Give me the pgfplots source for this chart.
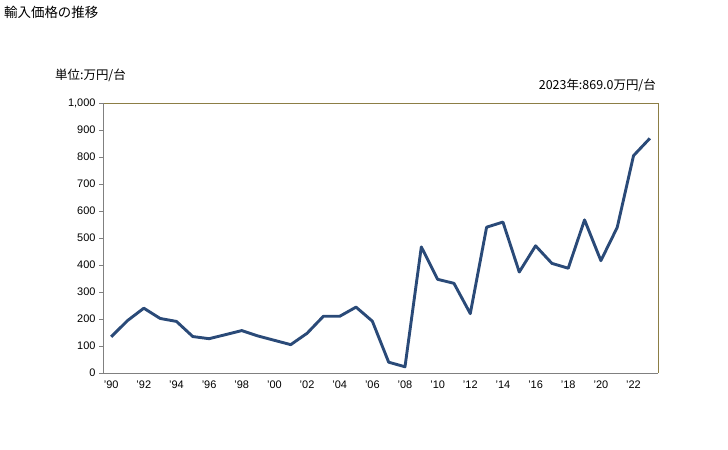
\documentclass[border=0pt]{standalone}
\usepackage{fontspec}
\setmainfont{Liberation Sans}
\newfontfamily\jp{Noto Sans CJK JP}
\usepackage{pgfplots}
\pgfplotsset{compat=1.18}
\definecolor{linecol}{HTML}{2A4A78}
\definecolor{framecol}{HTML}{8C7E45}
\definecolor{axgray}{HTML}{808080}

\begin{document}
\begin{tikzpicture}[x=1bp,y=1bp]
\path (0,0) rectangle (728,450);
\node[anchor=north west, inner sep=0pt, font=\jp\fontsize{13.5}{15}\selectfont] at (4,444) {輸入価格の推移};
\node[anchor=north west, inner sep=0pt, font=\jp\fontsize{12.5}{14}\selectfont] at (55,381) {単位:万円/台};
\node[anchor=north east, inner sep=0pt, font=\jp\fontsize{12.5}{14}\selectfont] at (656,371) {2023年:869.0万円/台};
\begin{axis}[
  at={(103bp,77bp)}, anchor=south west,
  scale only axis, width=555bp, height=270bp,
  xmin=1989.5, xmax=2023.5,
  ymin=0, ymax=1000,
  ytick={0,100,...,1000},
  xtick={1990,1992,...,2022},
  xticklabels={’90,’92,’94,’96,’98,’00,’02,’04,’06,’08,’10,’12,’14,’16,’18,’20,’22},
  tick label style={font=\fontsize{11}{12}\selectfont},
  /pgf/number format/assume math mode=true,
  /pgf/number format/1000 sep={,},
  axis line style={draw=none},
  x tick style={draw=none},
  y tick style={axgray, thin},
  ytick pos=left, tick align=outside, major tick length=4bp,
  xtick pos=bottom,
  clip=false,
]
\draw[framecol, line width=0.9bp] (axis cs:1989.5,1000) -- (axis cs:2023.5,1000) -- (axis cs:2023.5,0);
\draw[axgray, line width=0.9bp] (axis cs:1989.5,1000) -- (axis cs:1989.5,0) -- (axis cs:2023.5,0);
\addplot[linecol, line width=2.9bp, line join=round, mark=none] coordinates {
(1990,134)(1991,194)(1992,240)(1993,202)(1994,191)(1995,135)(1996,127)(1997,142)
(1998,157)(1999,137)(2000,121)(2001,105)(2002,147)(2003,210)(2004,210)(2005,244)
(2006,192)(2007,40)(2008,23)(2009,467)(2010,347)(2011,332)(2012,220)(2013,540)
(2014,559)(2015,374)(2016,471)(2017,406)(2018,388)(2019,567)(2020,416)(2021,539)
(2022,805)(2023,869)};
\end{axis}
\end{tikzpicture}
\end{document}
